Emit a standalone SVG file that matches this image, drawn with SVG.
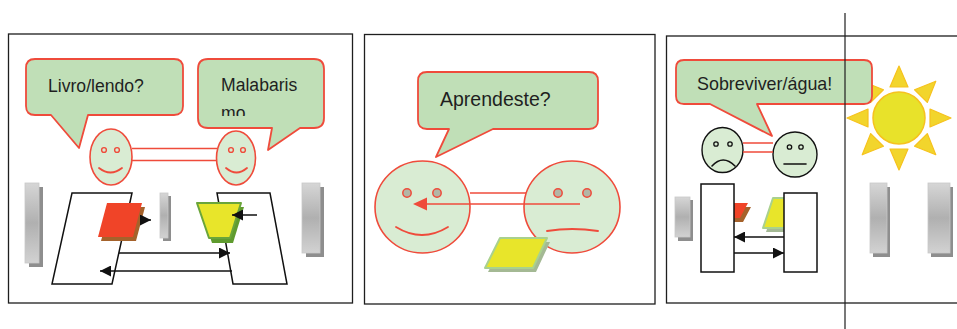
<svg xmlns="http://www.w3.org/2000/svg" width="957" height="329" viewBox="0 0 957 329">
  <defs>
    <style>
      .frame { fill: #ffffff; stroke: #1e1e1e; stroke-width: 1.3; }
      .bubble { fill: #c0dfb7; stroke: #ef4b3b; stroke-width: 1.8; stroke-linejoin: round; }
      .txt { font-family: "Liberation Sans", Arial, sans-serif; fill: #1f1f1f; }
      .face { fill: #d9ecd3; stroke: #ef4b3b; stroke-width: 1.6; }
      .faceK { fill: #d9ecd3; stroke: #111111; stroke-width: 1.4; }
      .eye { fill: none; stroke: #ef4b3b; stroke-width: 1.4; }
      .eyeG { fill: #b3b6a6; stroke: #ef4b3b; stroke-width: 1.5; }
      .eyeK { fill: none; stroke: #111111; stroke-width: 1.3; }
      .mouth { fill: none; stroke: #ef4b3b; stroke-width: 1.8; stroke-linecap: round; }
      .mouthK { fill: none; stroke: #111111; stroke-width: 1.6; stroke-linecap: round; }
      .red { fill: none; stroke: #ef4b3b; stroke-width: 1.5; }
      .blk { fill: none; stroke: #111111; stroke-width: 1.5; }
      .box { fill: #ffffff; stroke: #111111; stroke-width: 1.5; stroke-linejoin: miter; }
      .bar { fill: url(#barGrad); stroke: #c8c8c8; stroke-width: 0.8; }
      .barShadow { fill: #8e8e8e; }
      .ray { fill: #f2d52c; stroke: #f6c21e; stroke-width: 1.2; stroke-linejoin: round; }
    </style>
    <linearGradient id="barGrad" x1="0" y1="0" x2="0" y2="1">
      <stop offset="0" stop-color="#d6d6d6"/>
      <stop offset="0.5" stop-color="#b0b0b0"/>
      <stop offset="1" stop-color="#d2d2d2"/>
    </linearGradient>
    <marker id="arrowK" viewBox="0 0 10 10" refX="10" refY="5" markerWidth="11" markerHeight="11" markerUnits="userSpaceOnUse" orient="auto">
      <path d="M0,0 L10,5 L0,10 Z" fill="#111111"/>
    </marker>
    <clipPath id="clipMal">
      <rect x="198" y="60" width="126" height="56"/>
    </clipPath>
  </defs>

  <!-- Panel frames -->
  <g id="panel1"><rect class="frame" x="8.5" y="34" width="344" height="269"/></g>
  <g id="panel2"><rect class="frame" x="364.5" y="34.5" width="290.5" height="269.5"/></g>
  <g id="panel3"><rect class="frame" x="666.5" y="36" width="300" height="267"/></g>

  <!-- ===== Panel 1 ===== -->
  <g id="bubble-livro">
    <path class="bubble" d="M35,59 H174 Q183,59 183,68 V106 Q183,115 174,115 H88 L79,148 L51,115 H35 Q26,115 26,106 V68 Q26,59 35,59 Z"/>
    <text class="txt" x="48" y="92" font-size="17.6">Livro/lendo?</text>
  </g>
  <g id="bubble-malabarismo">
    <path class="bubble" d="M208,59 H314 Q324,59 324,69 V118 Q324,128 314,128 H300 L268,150 L272,128 H208 Q198,128 198,118 V69 Q198,59 208,59 Z"/>
    <text class="txt" x="221" y="91" font-size="17.6">Malabaris</text>
    <text class="txt" x="221" y="119" font-size="17.6" clip-path="url(#clipMal)">mo</text>
  </g>

  <g id="face-p1-left">
    <ellipse class="face" cx="111" cy="157" rx="21" ry="28"/>
    <circle class="eye" cx="104" cy="150" r="2.4"/>
    <circle class="eye" cx="117" cy="150" r="2.4"/>
    <path class="mouth" d="M99,168 Q110.5,177 122,168"/>
  </g>
  <g id="face-p1-right">
    <ellipse class="face" cx="236" cy="158" rx="19.5" ry="27"/>
    <circle class="eye" cx="231" cy="150" r="2.4"/>
    <circle class="eye" cx="243" cy="150" r="2.4"/>
    <path class="mouth" d="M226,168 Q236.5,177 247,168"/>
  </g>

  <g id="bar-p1-left">
    <rect class="barShadow" x="29" y="187" width="14" height="80"/>
    <rect class="bar" x="25" y="183" width="14" height="80"/>
  </g>
  <g id="bar-p1-mid">
    <rect class="barShadow" x="163" y="196" width="8" height="45"/>
    <rect class="bar" x="160" y="193" width="8" height="45"/>
  </g>
  <g id="bar-p1-right">
    <rect class="barShadow" x="306" y="187" width="18" height="70"/>
    <rect class="bar" x="302" y="183" width="18" height="70"/>
  </g>

  <g id="box-p1-left">
    <path class="box" d="M72,193 H132 L112,284 H52 Z"/>
  </g>
  <g id="box-p1-right">
    <path class="box" d="M217,193 H270 L287,284 H233 Z"/>
  </g>

  <g id="book-red">
    <path d="M110,207 H145 L136,241 H101 Z" fill="#a5622b"/>
    <path d="M107,203 H142 L133,237 H98 Z" fill="#f04428"/>
  </g>
  <g id="trapezoid-yellow">
    <path d="M200,207 H244 L233,243 H212 Z" fill="#5f9b2e"/>
    <path d="M197,203 H241 L230,238 H209 Z" fill="#e8e52a" stroke="#6aa53a" stroke-width="2" stroke-linejoin="round"/>
  </g>

  <!-- ===== Panel 2 ===== -->
  <g id="bubble-aprendeste">
    <path class="bubble" d="M427,72 H589 Q598,72 598,81 V120 Q598,129 589,129 H493 L436,157 L449,129 H427 Q418,129 418,120 V81 Q418,72 427,72 Z"/>
    <text class="txt" x="440" y="106" font-size="19.5">Aprendeste?</text>
  </g>
  <g id="face-p2-left">
    <ellipse class="face" cx="422.5" cy="207" rx="47.5" ry="46"/>
    <circle class="eyeG" cx="407" cy="193" r="4.2"/>
    <circle class="eyeG" cx="437" cy="193" r="4.2"/>
    <path class="mouth" d="M396,227 Q422,243 448,227"/>
  </g>
  <g id="face-p2-right">
    <ellipse class="face" cx="572" cy="207" rx="48" ry="46"/>
    <circle class="eyeG" cx="558" cy="193" r="4.2"/>
    <circle class="eyeG" cx="587" cy="193" r="4.2"/>
    <path class="mouth" d="M547,231 Q572,227 598,231"/>
  </g>
  <g id="sheet-yellow">
    <path d="M503,242 H550 L536,272 H488 Z" fill="#a4b994"/>
    <path d="M500,238 H547 L533,268 H485 Z" fill="#e8e52a" stroke="#a9d18e" stroke-width="2" stroke-linejoin="round"/>
  </g>

  <!-- ===== Panel 3 ===== -->
  <g id="sun">
    <g transform="translate(899,118)">
      <path class="ray" d="M0,-52 L9,-31 L-9,-31 Z"/>
      <path class="ray" d="M0,-52 L9,-31 L-9,-31 Z" transform="rotate(45)"/>
      <path class="ray" d="M0,-52 L9,-31 L-9,-31 Z" transform="rotate(90)"/>
      <path class="ray" d="M0,-52 L9,-31 L-9,-31 Z" transform="rotate(135)"/>
      <path class="ray" d="M0,-52 L9,-31 L-9,-31 Z" transform="rotate(180)"/>
      <path class="ray" d="M0,-52 L9,-31 L-9,-31 Z" transform="rotate(225)"/>
      <path class="ray" d="M0,-52 L9,-31 L-9,-31 Z" transform="rotate(270)"/>
      <path class="ray" d="M0,-52 L9,-31 L-9,-31 Z" transform="rotate(315)"/>
      <circle r="26" fill="#e8e22a" stroke="#f6c21e" stroke-width="1.5"/>
    </g>
  </g>
  <g id="bubble-sobreviver">
    <path class="bubble" d="M684,60 H864 Q872,60 872,68 V96 Q872,104 864,104 H757 L772,136 L710,104 H684 Q676,104 676,96 V68 Q676,60 684,60 Z"/>
    <text class="txt" x="697" y="90" font-size="17.9">Sobreviver/água!</text>
  </g>
  <g id="face-p3-sad">
    <ellipse class="faceK" cx="722.5" cy="150" rx="20.5" ry="22.5"/>
    <circle class="eyeK" cx="716" cy="144" r="2.2"/>
    <circle class="eyeK" cx="730" cy="144" r="2.2"/>
    <path class="mouthK" d="M712,166 Q723,154 735,166"/>
  </g>
  <g id="face-p3-neutral">
    <ellipse class="faceK" cx="795" cy="154.5" rx="22" ry="22.5"/>
    <circle class="eyeK" cx="789.5" cy="147" r="2.2"/>
    <circle class="eyeK" cx="801" cy="147" r="2.2"/>
    <path class="mouthK" d="M784,164 H806"/>
  </g>

  <g id="bar-p3-small">
    <rect class="barShadow" x="678" y="200" width="15" height="41"/>
    <rect class="bar" x="675" y="197" width="15" height="40"/>
  </g>
  <g id="bar-p3-mid">
    <rect class="barShadow" x="873" y="187" width="17" height="70"/>
    <rect class="bar" x="870" y="183" width="17" height="70"/>
  </g>
  <g id="bar-p3-right">
    <rect class="barShadow" x="931" y="187" width="22" height="70"/>
    <rect class="bar" x="928" y="183" width="22" height="70"/>
  </g>

  <g id="book-red-p3">
    <path d="M721,207 H751 L743,222 H713 Z" fill="#a5622b"/>
    <path d="M718,203 H748 L740,218 H710 Z" fill="#f04428"/>
  </g>
  <g id="sheet-yellow-p3">
    <path d="M776,202 H808 L798,232 H766 Z" fill="#a4b994"/>
    <path d="M773,198 H805 L795,228 H763 Z" fill="#e8e52a" stroke="#a9d18e" stroke-width="2" stroke-linejoin="round"/>
  </g>
  <g id="box-p3-left">
    <rect class="box" x="701" y="184" width="33" height="88"/>
  </g>
  <g id="box-p3-right">
    <rect class="box" x="784" y="193" width="33" height="79"/>
  </g>

  <!-- Connectors -->
  <g id="connectors">
    <!-- panel 1 -->
    <path class="red" d="M132,148.5 H217 M132,160.5 H217"/>
    <path class="blk" d="M141,220 H151" marker-end="url(#arrowK)"/>
    <path class="blk" d="M257,215 H232" marker-end="url(#arrowK)"/>
    <path class="blk" d="M119,253 H230" marker-end="url(#arrowK)"/>
    <path class="blk" d="M232,271 H100" marker-end="url(#arrowK)"/>
    <!-- panel 2 -->
    <path class="red" d="M470,193 H526"/>
    <path class="red" d="M580,204 H425"/>
    <path d="M413,204 L427,197.5 L427,210.5 Z" fill="#ef4b3b"/>
    <!-- panel 3 -->
    <path class="red" d="M743,143 H773 M743,152 H773"/>
    <path class="blk" d="M784,237 H734" marker-end="url(#arrowK)"/>
    <path class="blk" d="M734,253 H784" marker-end="url(#arrowK)"/>
  </g>

  <!-- vertical rule across panel 3 -->
  <line x1="845" y1="13" x2="845" y2="329" stroke="#1e1e1e" stroke-width="1.2"/>
</svg>
